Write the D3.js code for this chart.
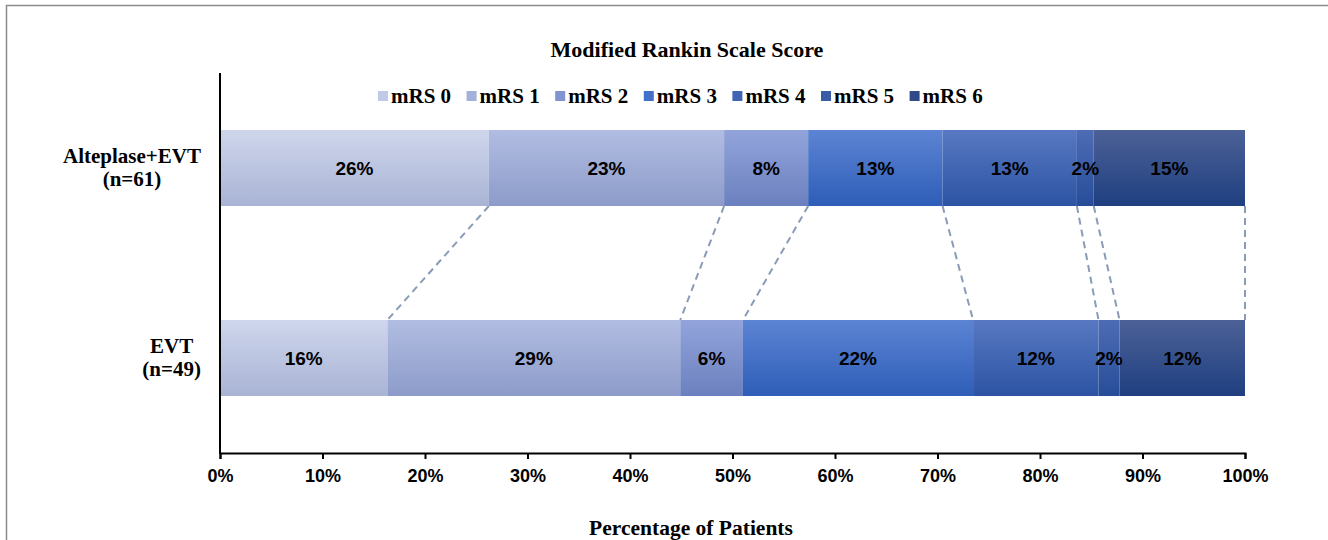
<!DOCTYPE html>
<html>
<head>
<meta charset="utf-8">
<script src="https://cdn.jsdelivr.net/npm/d3@7"></script>
<style>
  body { margin: 0; background: #fff; }
  svg { display: block; }
</style>
</head>
<body>
<div id="chart"></div>
<script>
// data (percent of patients per mRS score)
const groups = ["Alteplase+EVT", "EVT"];
const groupN = ["(n=61)", "(n=49)"];
const scores = ["mRS 0", "mRS 1", "mRS 2", "mRS 3", "mRS 4", "mRS 5", "mRS 6"];
const alteplaseEvt = [26.23, 22.95, 8.20, 13.11, 13.11, 1.64, 14.76];
const evtOnly = [16.33, 28.57, 6.12, 22.45, 12.24, 2.05, 12.24];
const ticks = [0, 10, 20, 30, 40, 50, 60, 70, 80, 90, 100];

const W = 1328, H = 540;
const margin = { top: 73, right: 83, bottom: 87, left: 220 };

// gradient colours, top -> bottom
const topCols = ["#cfd6ec", "#b1bde2", "#93a4db", "#5c84d3", "#5878c2", "#4d6cb5", "#4c6197"];
const botCols = ["#a9b3d4", "#8c9bc9", "#6b80bf", "#2e5eb8", "#2c54a3", "#284d98", "#1f3f80"];
const legendCols = ["#c0c9e6", "#a2b0da", "#8194d1", "#4370c8", "#4065b2", "#3a5ca7", "#2e4a88"];

const svg = d3.select("#chart").append("svg")
  .attr("width", W).attr("height", H);

// frame
svg.append("path")
  .attr("d", `M6.5,${H} V5.5 H${W}`)
  .attr("fill", "none")
  .attr("stroke", "#8c8c8c")
  .attr("stroke-width", 1.5);

const defs = svg.append("defs");
scores.forEach((s, i) => {
  const g = defs.append("linearGradient")
    .attr("id", "grad" + i)
    .attr("x1", 0).attr("y1", 0).attr("x2", 0).attr("y2", 1);
  g.append("stop").attr("offset", "0%").attr("stop-color", topCols[i]);
  g.append("stop").attr("offset", "100%").attr("stop-color", botCols[i]);
});

const x = d3.scaleLinear().domain([0, 100]).range([margin.left, W - margin.right]);
const y = d3.scaleBand().domain(groups)
  .range([margin.top, H - margin.bottom])
  .paddingInner(0.6).paddingOuter(0.3);

const rows = [alteplaseEvt, evtOnly].map((vals, gi) => {
  let cum = 0;
  return vals.map((v, i) => {
    const d = { group: groups[gi], i, v, x0: cum, x1: Math.min(cum + v, 100) };
    cum += v;
    return d;
  });
});

// dashed connectors between the two bars
const conn = svg.append("g");
for (let i = 0; i < scores.length; i++) {
  conn.append("line")
    .attr("x1", x(rows[0][i].x1)).attr("y1", y(groups[0]) + y.bandwidth())
    .attr("x2", x(rows[1][i].x1)).attr("y2", y(groups[1]))
    .attr("stroke", "#8a9bb8")
    .attr("stroke-width", 2)
    .attr("stroke-dasharray", "7,5");
}

// bars
rows.forEach(row => {
  const g = svg.append("g");
  g.selectAll("rect")
    .data(row)
    .join("rect")
    .attr("x", d => x(d.x0))
    .attr("y", d => y(d.group))
    .attr("width", d => x(d.x1) - x(d.x0))
    .attr("height", y.bandwidth())
    .attr("fill", d => `url(#grad${d.i})`);

  g.selectAll("text")
    .data(row)
    .join("text")
    .attr("x", d => (x(d.x0) + x(d.x1)) / 2)
    .attr("y", d => y(d.group) + y.bandwidth() / 2)
    .attr("dy", "0.35em")
    .attr("text-anchor", "middle")
    .style("font-family", "'Liberation Sans', Arial, sans-serif")
    .style("font-weight", "bold")
    .style("font-size", "19px")
    .attr("fill", "#000")
    .text(d => Math.round(d.v) + "%");
});

// axes
const xAxis = svg.append("g")
  .attr("transform", `translate(0,${H - margin.bottom})`)
  .call(d3.axisBottom(x).tickValues(ticks).tickFormat(d => d + "%").tickSize(6).tickSizeOuter(6));
xAxis.select(".domain").attr("stroke", "#000").attr("stroke-width", 2);
xAxis.selectAll(".tick line").attr("stroke", "#000").attr("stroke-width", 2);
xAxis.selectAll(".tick text")
  .attr("y", 16)
  .style("font-family", "'Liberation Sans', Arial, sans-serif")
  .style("font-weight", "bold")
  .style("font-size", "18px")
  .attr("fill", "#000");

svg.append("line")
  .attr("x1", margin.left).attr("x2", margin.left)
  .attr("y1", margin.top).attr("y2", H - margin.bottom + 1)
  .attr("stroke", "#000").attr("stroke-width", 2);

// category labels
const serif = "'Liberation Serif', 'Times New Roman', serif";
groups.forEach((gname, gi) => {
  const cy = y(gname) + y.bandwidth() / 2;
  const t = svg.append("text")
    .attr("text-anchor", "middle")
    .style("font-family", serif)
    .style("font-weight", "bold")
    .style("font-size", "21px");
  const l1 = t.append("tspan").attr("y", cy - 5).text(gname);
  const l2 = t.append("tspan").attr("y", cy + 18).text(groupN[gi]);
  const w = Math.max(l1.node().getComputedTextLength(), l2.node().getComputedTextLength());
  const cx = 201 - w / 2;
  l1.attr("x", cx);
  l2.attr("x", cx);
});

// title
svg.append("text")
  .attr("x", 687).attr("y", 57)
  .attr("text-anchor", "middle")
  .style("font-family", serif)
  .style("font-weight", "bold")
  .style("font-size", "22px")
  .text("Modified Rankin Scale Score");

// x title
svg.append("text")
  .attr("x", 691).attr("y", 535)
  .attr("text-anchor", "middle")
  .style("font-family", serif)
  .style("font-weight", "bold")
  .style("font-size", "21.5px")
  .text("Percentage of Patients");

// legend
const legend = svg.append("g").attr("transform", "translate(378,91)");
scores.forEach((s, i) => {
  const g = legend.append("g").attr("transform", `translate(${i * 88.6},0)`);
  g.append("rect").attr("width", 10).attr("height", 10).attr("fill", legendCols[i]);
  g.append("text")
    .attr("x", 13).attr("y", 5).attr("dy", "0.35em")
    .style("font-family", serif)
    .style("font-weight", "bold")
    .style("font-size", "21px")
    .text(s);
});
</script>
</body>
</html>
